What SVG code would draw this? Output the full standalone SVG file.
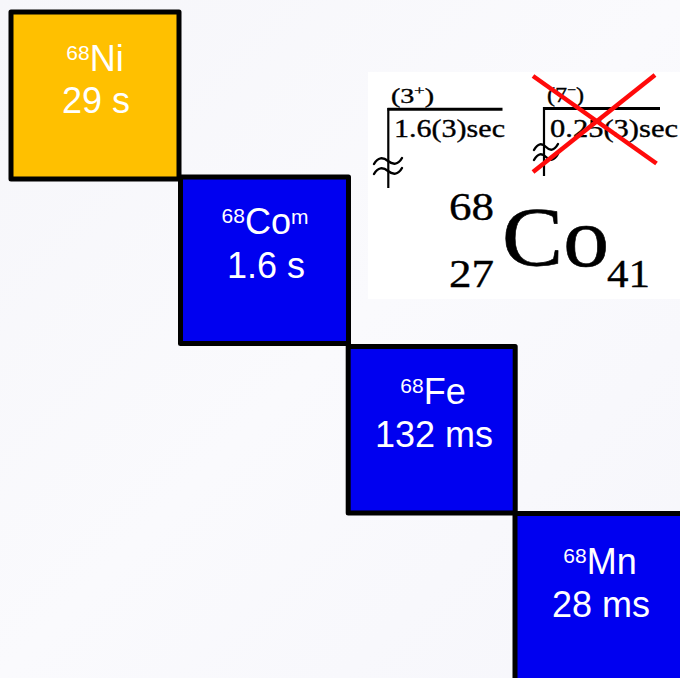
<svg xmlns="http://www.w3.org/2000/svg" width="680" height="678" viewBox="0 0 680 678">
  <defs>
    <linearGradient id="bg" x1="0" y1="0" x2="1" y2="1">
      <stop offset="0" stop-color="#F6F6FA"/>
      <stop offset="0.5" stop-color="#FAFAFD"/>
      <stop offset="1" stop-color="#F6F6FB"/>
    </linearGradient>
  </defs>
  <style>
    .box { stroke: #000; stroke-width: 5; stroke-linejoin: round; }
    .ni { fill: #FFC000; }
    .blue { fill: #0000F0; }
    .lbl { font-family: "Liberation Sans", Arial, sans-serif; font-size: 36px; fill: #FFFFFF; text-anchor: middle; }
    .sup { font-size: 21px; }
    .tm { font-family: "Liberation Serif", "Times New Roman", serif; fill: #000; stroke: #000; stroke-width: 0.35; }
    .big { stroke-width: 0.6; }
    .lvl { stroke: #000; stroke-width: 3; fill: none; }
    .vl { stroke: #000; stroke-width: 2.2; fill: none; }
    .sq { stroke: #000; stroke-width: 2.4; fill: none; stroke-linecap: round; }
    .cross { stroke: #FF0A0A; stroke-width: 4.5; stroke-linecap: butt; }
  </style>
  <rect x="0" y="0" width="680" height="678" fill="url(#bg)"/>

  <g id="inset">
    <rect x="368" y="72" width="312" height="227" fill="#FFFFFF"/>
    <!-- level 1.6 s -->
    <line class="lvl" x1="387.5" y1="109.3" x2="502.5" y2="109.3"/>
    <line class="vl" x1="388.3" y1="108" x2="388.3" y2="188"/>
    <path class="sq" d="M374,164 C378,157 383,157 388,161 S398,165 402,158"/>
    <path class="sq" d="M374,174 C378,167 383,167 388,171 S398,175 402,168"/>
    <text class="tm" x="391" y="103" font-size="20" textLength="43" lengthAdjust="spacingAndGlyphs">(3<tspan font-size="13" dy="-8">+</tspan><tspan dy="8">)</tspan></text>
    <text class="tm" x="394" y="136.5" font-size="25" textLength="111" lengthAdjust="spacingAndGlyphs">1.6(3)sec</text>
    <!-- level 0.25 s -->
    <line class="lvl" x1="543" y1="108.5" x2="660" y2="108.5"/>
    <line class="vl" x1="544" y1="107" x2="544" y2="176"/>
    <path class="sq" d="M534,150 C538,143 542,143 546,147 S554,151 558,144"/>
    <path class="sq" d="M534,160 C538,153 542,153 546,157 S554,161 558,154"/>
    <text class="tm" x="547" y="102" font-size="20" textLength="37" lengthAdjust="spacingAndGlyphs">(7<tspan font-size="13" dy="-8">−</tspan><tspan dy="8">)</tspan></text>
    <text class="tm" x="550" y="137" font-size="25" textLength="128" lengthAdjust="spacingAndGlyphs">0.25(3)sec</text>
    <!-- nuclide symbol -->
    <text class="tm" x="449" y="219.5" font-size="39" textLength="45" lengthAdjust="spacingAndGlyphs">68</text>
    <text class="tm" x="449" y="286.5" font-size="39" textLength="45" lengthAdjust="spacingAndGlyphs">27</text>
    <text class="tm big" x="502" y="266" font-size="85" textLength="107" lengthAdjust="spacingAndGlyphs">Co</text>
    <text class="tm" x="607" y="286.5" font-size="39" textLength="43" lengthAdjust="spacingAndGlyphs">41</text>
    <!-- red cross -->
    <line class="cross" x1="533" y1="76" x2="656.5" y2="163.5"/>
    <line class="cross" x1="655" y1="75" x2="533" y2="172"/>
  </g>

  <g id="connectors"/>

  <g id="node-ni68">
    <rect class="box ni" x="11" y="12" width="168" height="167"/>
    <text class="lbl" x="95" y="71"><tspan class="sup" dy="-11">68</tspan><tspan dy="11">Ni</tspan></text>
    <text class="lbl" x="96" y="113">29 s</text>
  </g>
  <g id="node-co68m">
    <rect class="box blue" x="180.5" y="177" width="168" height="166.5"/>
    <text class="lbl" x="265" y="234"><tspan class="sup" dy="-11">68</tspan><tspan dy="11">Co</tspan><tspan class="sup" dy="-10">m</tspan></text>
    <text class="lbl" x="266" y="277.5">1.6 s</text>
  </g>
  <g id="node-fe68">
    <rect class="box blue" x="348.2" y="346.5" width="167" height="166.5"/>
    <text class="lbl" x="433" y="404"><tspan class="sup" dy="-11">68</tspan><tspan dy="11">Fe</tspan></text>
    <text class="lbl" x="434" y="446.5">132 ms</text>
  </g>
  <g id="node-mn68">
    <rect class="box blue" x="515" y="513.5" width="175" height="175"/>
    <text class="lbl" x="600" y="574"><tspan class="sup" dy="-11">68</tspan><tspan dy="11">Mn</tspan></text>
    <text class="lbl" x="601" y="616.5">28 ms</text>
  </g>
</svg>
